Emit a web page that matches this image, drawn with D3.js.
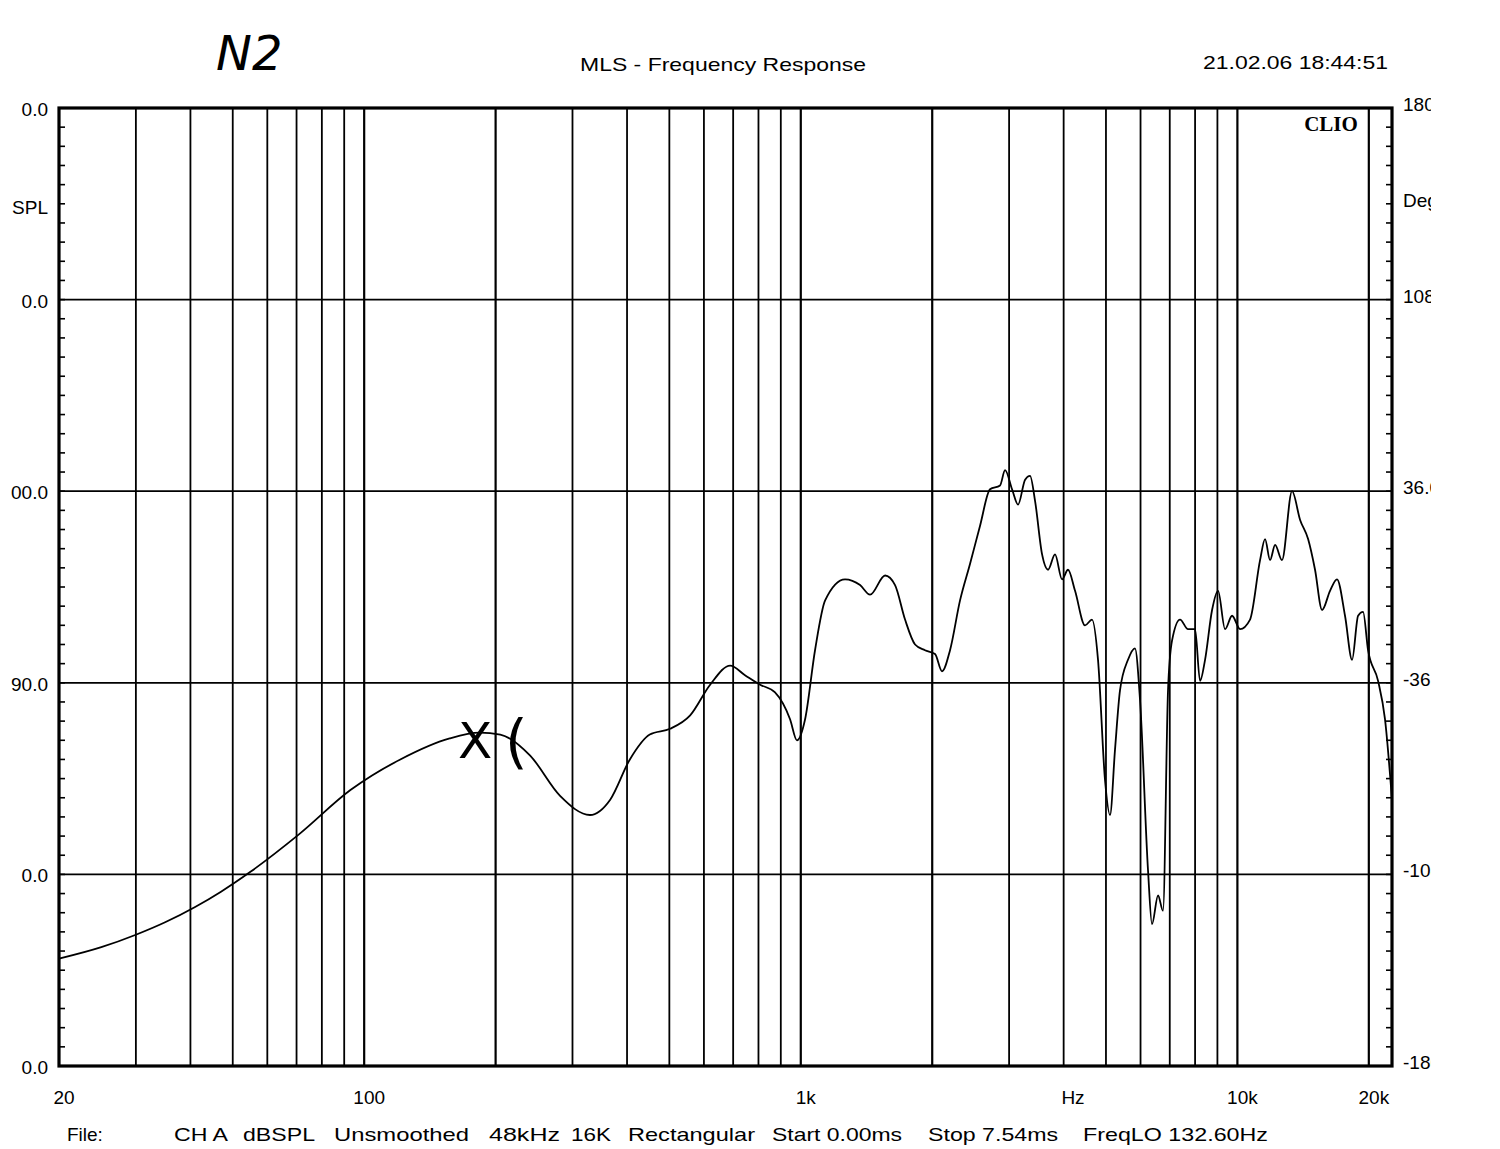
<!DOCTYPE html>
<html><head><meta charset="utf-8">
<script src="https://cdn.jsdelivr.net/npm/d3@7"></script>
<style>body{margin:0;background:#fff}svg{display:block}</style>
</head><body>
<script>
// ---- data ----
const freqHz = [20,25,30,35,41,47,55,71,93,121,157,184,205,240,281,329,366,406,451,502,558,620,689,745,807,873,945,980,1023,1078,1137,1263,1367,1441,1560,1644,1733,1827,1925,2030,2106,2197,2316,2441,2574,2713,2860,2937,3047,3145,3264,3350,3440,3570,3685,3822,3966,4093,4248,4477,4645,4795,4976,5108,5244,5384,5616,5827,5984,6242,6374,6580,6755,6936,7084,7390,7708,7998,8212,8432,8750,9031,9370,9722,10140,10690,11270,11570,11880,12200,12650,13340,13920,14520,15060,15630,16300,16910,17640,18310,18900,19400,19920,21000,21780,22600];
const splDb = [75.6,76.2,76.85,77.5,78.3,79.1,80.15,82.1,84.4,86.0,87.1,87.4,87.3,86.2,84.1,83.1,83.9,86.0,87.3,87.6,88.3,89.9,90.9,90.4,89.9,89.5,88.1,87.0,88.1,91.7,94.3,95.4,95.1,94.6,95.6,95.1,93.3,92.0,91.7,91.5,90.6,91.7,94.3,96.2,98.2,100.1,100.3,101.1,100.1,99.3,100.6,100.8,99.5,96.7,95.9,96.7,95.4,95.9,94.8,93.0,93.3,91.2,84.9,83.1,86.5,89.6,91.2,91.8,89.1,80.2,77.4,78.9,78.1,89.6,92.2,93.3,92.8,92.8,90.1,91.2,93.8,94.8,92.8,93.5,92.8,93.3,96.4,97.5,96.4,97.2,96.4,100.0,98.5,97.5,95.9,93.8,94.8,95.4,93.5,91.2,93.5,93.7,91.7,90.1,88.1,83.9];
const xGridHz = [30,40,50,60,70,80,90,100,200,300,400,500,600,700,800,900,1000,2000,3000,4000,5000,6000,7000,8000,9000,10000,20000];
const xLabelHz = [20,100,1000,10000,20000];
const xLabelText = ["20","100","1k","10k","20k"];
const yLeftTicks = [120,110,100,90,80,70];
const yLeftText = ["0.0","0.0","00.0","90.0","0.0","0.0"];
const yRightTicks = [180,108,36,-36,-108,-180];
const yRightText = ["180","108","36.0","-36.0","-108","-180"];
const footerItems = ["CH A","dBSPL","Unsmoothed","48kHz","16K","Rectangular","Start 0.00ms","Stop 7.54ms","FreqLO 132.60Hz"];

// ---- layout ----
const W = 1500, H = 1149;
const L = 59, R = 1392, T = 108, B = 1066;
const font = "'Liberation Sans', Arial, sans-serif";
const hand = "'DejaVu Sans ExtraLight', 'DejaVu Sans', sans-serif";

const svg = d3.select("body").append("svg").attr("width", W).attr("height", H)
  .style("font-family", font);
svg.append("rect").attr("width", W).attr("height", H).attr("fill", "#fff");

const x = d3.scaleLog().domain([20, 22600]).range([L, R]);
const y = d3.scaleLinear().domain([70, 120]).range([B, T]);
const yPh = d3.scaleLinear().domain([-180, 180]).range([B, T]);

// vertical grid
svg.append("g").selectAll("line").data(xGridHz).join("line")
  .attr("x1", d => x(d)).attr("x2", d => x(d)).attr("y1", T).attr("y2", B)
  .attr("stroke", "#000").attr("stroke-width", d => (String(d)[0] === "1" || String(d)[0] === "2") ? 2.2 : 1.8);

// horizontal grid
svg.append("g").selectAll("line").data(yLeftTicks.slice(1, -1)).join("line")
  .attr("x1", L).attr("x2", R).attr("y1", d => y(d)).attr("y2", d => y(d))
  .attr("stroke", "#000").attr("stroke-width", 1.8);

// left minor ticks
svg.append("g").selectAll("line").data(d3.range(70, 121, 1)).join("line")
  .attr("x1", L).attr("x2", L + 6).attr("y1", d => y(d)).attr("y2", d => y(d))
  .attr("stroke", "#000").attr("stroke-width", 1.6);
// right minor ticks
svg.append("g").selectAll("line").data(d3.range(-180, 181, 7.2)).join("line")
  .attr("x1", R - 6).attr("x2", R).attr("y1", d => yPh(d)).attr("y2", d => yPh(d))
  .attr("stroke", "#000").attr("stroke-width", 1.6);

// frame
svg.append("rect").attr("x", L).attr("y", T).attr("width", R - L).attr("height", B - T)
  .attr("fill", "none").attr("stroke", "#000").attr("stroke-width", 3.2);

// curve
const line = d3.line().x((d, i) => x(freqHz[i])).y(d => y(d)).curve(d3.curveMonotoneX);
svg.append("path").datum(splDb).attr("d", line)
  .attr("fill", "none").attr("stroke", "#000").attr("stroke-width", 1.8).attr("stroke-linejoin", "round");

// left labels
svg.append("g").selectAll("text").data(yLeftTicks).join("text")
  .attr("x", 48).attr("y", d => y(d) + 8).attr("text-anchor", "end")
  .attr("font-size", 19).text((d, i) => yLeftText[i]);
svg.append("text").attr("x", 48).attr("y", 214).attr("text-anchor", "end").attr("font-size", 19).text("SPL");

// right labels (clipped like the scan)
svg.append("clipPath").attr("id", "rc").append("rect").attr("x", 1395).attr("y", 0).attr("width", 36).attr("height", H);
const rg = svg.append("g").attr("clip-path", "url(#rc)");
rg.selectAll("text.r").data(yRightTicks).join("text").attr("class", "r")
  .attr("x", 1403).attr("y", d => yPh(d) + 3).attr("font-size", 19).text((d, i) => yRightText[i]);
rg.append("text").attr("x", 1403).attr("y", 207).attr("font-size", 19).text("Deg");

// bottom labels
svg.append("g").selectAll("text").data(xLabelHz).join("text")
  .attr("x", d => x(d) + 5).attr("y", 1104).attr("text-anchor", "middle")
  .attr("font-size", 19).text((d, i) => xLabelText[i]);
svg.append("text").attr("x", 1073).attr("y", 1104).attr("text-anchor", "middle").attr("font-size", 19).text("Hz");

// titles
svg.append("text").attr("x", 580).attr("y", 71).attr("font-size", 19)
  .attr("textLength", 286).attr("lengthAdjust", "spacingAndGlyphs").text("MLS - Frequency Response");
svg.append("text").attr("x", 1203).attr("y", 69).attr("font-size", 19)
  .attr("textLength", 185).attr("lengthAdjust", "spacingAndGlyphs").text("21.02.06 18:44:51");
svg.append("text").attr("x", 1331).attr("y", 131).attr("text-anchor", "middle")
  .attr("font-family", "'Liberation Serif', serif").attr("font-weight", "bold").attr("font-size", 21).text("CLIO");

// footer
svg.append("text").attr("x", 67).attr("y", 1141).attr("font-size", 19).text("File:");
const footX = [174, 243, 334, 489, 571, 628, 772, 928, 1083];
const footW = [54, 72, 135, 71, 40, 127, 130, 130, 185];
svg.append("g").selectAll("text").data(footerItems).join("text")
  .attr("x", (d, i) => footX[i]).attr("y", 1141).attr("font-size", 19)
  .attr("textLength", (d, i) => footW[i]).attr("lengthAdjust", "spacingAndGlyphs").text(d => d);

// handwriting
svg.append("text").attr("x", 216).attr("y", 70).attr("font-family", hand)
  .attr("font-style", "italic").attr("font-size", 48).text("N2");
svg.append("text").attr("x", 458).attr("y", 758).attr("font-family", hand)
  .attr("font-size", 50).text("X");
svg.append("text").attr("x", 505).attr("y", 762).attr("font-family", hand)
  .attr("font-size", 58).text("(");
</script>
</body></html>
